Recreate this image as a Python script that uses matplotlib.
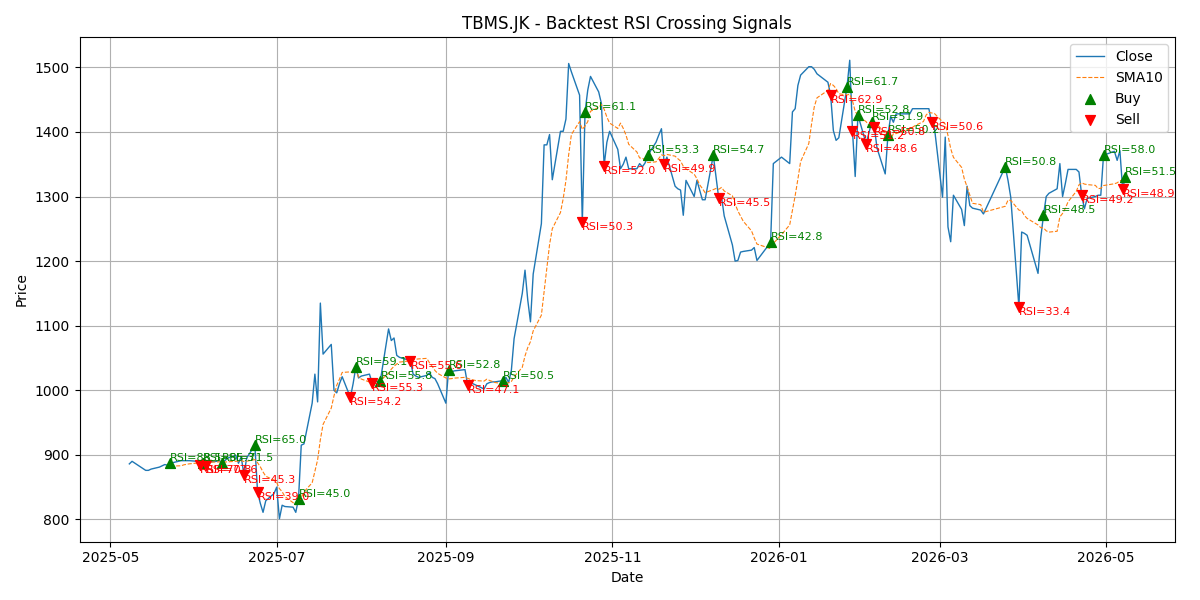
import matplotlib
matplotlib.use("Agg")
import matplotlib.pyplot as plt
import pandas as pd

ticker = "TBMS.JK"

# daily closes (business days, grouped by month)
dates = (
    ["2025-05-%02d" % d for d in [8, 9, 14, 15, 16, 19, 20, 21, 22, 23, 26, 27, 28, 30]]
    + ["2025-06-%02d" % d for d in [2, 3, 4, 5, 6, 9, 10, 11, 12, 13, 16, 17, 18, 19, 20, 23, 24, 25, 26, 27, 30]]
    + ["2025-07-%02d" % d for d in [1, 2, 3, 4, 7, 8, 9, 10, 11, 14, 15, 16, 17, 18, 21, 22, 23, 24, 25, 28, 29, 30, 31]]
    + ["2025-08-%02d" % d for d in [1, 4, 5, 6, 7, 8, 11, 12, 13, 14, 15, 19, 20, 21, 22, 25, 26, 27, 28, 29]]
    + ["2025-09-%02d" % d for d in [1, 2, 3, 4, 8, 9, 10, 11, 12, 15, 16, 17, 18, 19, 22, 23, 24, 25, 26, 29, 30]]
    + ["2025-10-%02d" % d for d in [1, 2, 3, 6, 7, 8, 9, 10, 13, 14, 15, 16, 17, 20, 21, 22, 23, 24, 27, 28, 29, 30, 31]]
    + ["2025-11-%02d" % d for d in [3, 4, 5, 6, 7, 10, 11, 12, 13, 14, 17, 18, 19, 20, 21, 24, 25, 26, 27, 28]]
    + ["2025-12-%02d" % d for d in [1, 2, 3, 4, 5, 8, 9, 10, 11, 12, 15, 16, 17, 18, 19, 22, 23, 24, 29, 30]]
    + ["2026-01-%02d" % d for d in [2, 5, 6, 7, 8, 9, 12, 13, 14, 15, 19, 20, 21, 22, 23, 26, 27, 28, 29, 30]]
    + ["2026-02-%02d" % d for d in [2, 3, 4, 5, 6, 9, 10, 11, 12, 13, 16, 18, 19, 20, 23, 24, 25, 26, 27]]
    + ["2026-03-%02d" % d for d in [2, 3, 4, 5, 6, 9, 10, 11, 12, 13, 16, 17, 25, 26, 27, 30, 31]]
    + ["2026-04-%02d" % d for d in [1, 2, 6, 7, 8, 9, 10, 13, 14, 15, 16, 17, 20, 21, 22, 23, 24, 27, 28, 29, 30]]
    + ["2026-05-%02d" % d for d in [4, 5, 6, 7, 8]]
)

close = (
    [886, 890, 876, 876, 878, 881, 883, 885, 884, 887, 890, 891, 891, 891]
    + [890, 885, 888, 885, 889, 890, 891, 888, 891, 895, 899, 887, 897, 869, 895, 915, 842, 825, 811, 829, 840]
    + [850, 801, 822, 820, 819, 811, 832, 915, 917, 980, 1025, 982, 1135, 1056, 1071, 1000, 996, 1010, 1021, 989, 1010, 1036, 1019]
    + [1022, 1025, 1011, 1013, 1014, 1015, 1095, 1077, 1081, 1054, 1051, 1046, 1025, 1022, 1020, 1023, 1027, 1020, 1018, 1010]
    + [980, 1032, 1028, 1030, 1032, 1008, 1012, 1010, 1008, 1002, 1010, 1012, 1013, 1013, 1015, 1020, 1012, 1031, 1080, 1150, 1186]
    + [1140, 1106, 1180, 1258, 1380, 1380, 1396, 1326, 1401, 1401, 1420, 1506, 1493, 1457, 1260, 1431, 1465, 1486, 1462, 1444, 1348, 1384, 1401]
    + [1373, 1343, 1350, 1361, 1343, 1343, 1351, 1346, 1352, 1364, 1384, 1395, 1405, 1351, 1361, 1316, 1312, 1310, 1271, 1325]
    + [1300, 1325, 1310, 1295, 1295, 1364, 1330, 1297, 1300, 1270, 1225, 1200, 1201, 1214, 1215, 1217, 1221, 1201, 1229, 1351]
    + [1361, 1351, 1431, 1436, 1472, 1488, 1501, 1501, 1497, 1490, 1477, 1457, 1402, 1387, 1391, 1470, 1511, 1402, 1331, 1426]
    + [1382, 1398, 1415, 1408, 1375, 1335, 1395, 1424, 1415, 1428, 1428, 1428, 1436, 1436, 1436, 1436, 1436, 1415, 1408]
    + [1299, 1392, 1253, 1230, 1302, 1280, 1255, 1316, 1286, 1282, 1279, 1273, 1346, 1325, 1299, 1129, 1245]
    + [1243, 1240, 1181, 1236, 1271, 1300, 1305, 1312, 1351, 1300, 1320, 1342, 1342, 1338, 1302, 1281, 1297, 1300, 1302, 1302, 1364]
    + [1370, 1356, 1371, 1312, 1330]
)

buy_dates = ["2025-05-23", "2025-06-04", "2025-06-11", "2025-06-23", "2025-07-09",
             "2025-07-30", "2025-08-08", "2025-09-02", "2025-09-22", "2025-10-22",
             "2025-11-14", "2025-12-08", "2025-12-29", "2026-01-26", "2026-01-30",
             "2026-02-04", "2026-02-10", "2026-03-25", "2026-04-08", "2026-04-30",
             "2026-05-08"]
buy_rsi = [88.5, 85.3, 71.5, 65.0, 45.0, 59.1, 55.8, 52.8, 50.5, 61.1, 53.3,
           54.7, 42.8, 61.7, 52.8, 51.9, 50.2, 50.8, 48.5, 58.0, 51.5]

sell_dates = ["2025-06-03", "2025-06-05", "2025-06-19", "2025-06-24", "2025-07-28",
              "2025-08-05", "2025-08-19", "2025-09-09", "2025-10-21", "2025-10-29",
              "2025-11-20", "2025-12-10", "2026-01-20", "2026-01-28", "2026-02-02",
              "2026-02-05", "2026-02-26", "2026-03-30", "2026-04-22", "2026-05-07"]
sell_rsi = [70.8, 77.6, 45.3, 39.0, 54.2, 55.3, 55.6, 47.1, 50.3, 52.0, 49.9,
            45.5, 62.9, 51.2, 48.6, 50.8, 50.6, 33.4, 49.2, 48.9]

df = pd.DataFrame({"Close": close}, index=pd.to_datetime(dates))
df["SMA10"] = df["Close"].rolling(10).mean()

buys = df.loc[pd.to_datetime(buy_dates), "Close"]
sells = df.loc[pd.to_datetime(sell_dates), "Close"]

fig, ax = plt.subplots(figsize=(12, 6), dpi=100)
ax.plot(df.index, df["Close"], label="Close", linewidth=1)
ax.plot(df.index, df["SMA10"], label="SMA10", linestyle="--", linewidth=0.8)
ax.scatter(buys.index, buys.values, marker="^", color="green", s=50, label="Buy", zorder=3)
ax.scatter(sells.index, sells.values, marker="v", color="red", s=50, label="Sell", zorder=3)

for d, p, r in zip(buys.index, buys.values, buy_rsi):
    ax.text(d, p, f"RSI={r:.1f}", color="green", fontsize=8, va="bottom")
for d, p, r in zip(sells.index, sells.values, sell_rsi):
    ax.text(d, p, f"RSI={r:.1f}", color="red", fontsize=8, va="top")

ax.set_title(f"{ticker} - Backtest RSI Crossing Signals")
ax.set_xlabel("Date")
ax.set_ylabel("Price")
ax.legend(loc="upper right")
ax.grid(True)
fig.tight_layout()
fig.savefig("out.png")
